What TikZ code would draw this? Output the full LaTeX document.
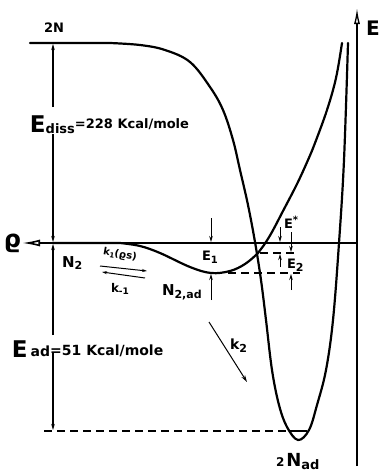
\documentclass[tikz,border=0pt]{standalone}
\usepackage{fontspec}
\setmainfont{DejaVu Sans}
\usetikzlibrary{arrows.meta}
\newcommand\fsz[1]{\fontsize{#1}{#1}\selectfont}
\newcommand\vrh{\char"03F1\relax}
\begin{document}
\begin{tikzpicture}[x=1pt,y=-1pt,
  curve/.style={line width=2.2pt,line join=round,line cap=round},
  axis/.style={line width=1.3pt},
  thinax/.style={line width=1pt},
  lvl/.style={line width=1.1pt,dash pattern=on 8pt off 5pt},
  tip/.style={-{Stealth[length=6pt,width=3.5pt]}},
  lbl/.style={inner sep=0pt,outer sep=0pt,anchor=base west,font=\bfseries},
]
\useasboundingbox (0,0) rectangle (380,472);

% axes
\coordinate (zeroL) at (22,243);
\coordinate (zeroR) at (357,243);
\coordinate (Etop) at (357,8);
\coordinate (Ebot) at (357,466);
\draw[line width=1.6pt,-{Latex[open,length=18pt,width=7pt]}] (zeroR) -- (zeroL);
\draw[axis,-{Latex[open,length=16pt,width=6pt]}] (Ebot) -- (Etop);

% dissociative curve 2N -> 2N_ad
\draw[curve] (30,43) -- plot[smooth,tension=0.6] coordinates {(110,43) (140,45) (165,50) (190,62) (210,87) (223,110) (233,140) (240,170) (248,205) (255,242) (261,280) (266,320) (272,370) (279,405) (287,427) (298,440) (309,430) (317,405) (326,370) (333,320) (339,243) (344,160) (348,43)};

% molecular curve N2 -> N2,ad
\draw[curve] (53,243) -- plot[smooth,tension=0.6] coordinates {(120,243) (140,246) (160,253) (190,267) (211,273) (230,271) (245,264) (258,253) (264,245) (272,232) (283,211) (297,184) (308,160) (315,143) (327,110) (336,78) (342,43)};

% levels
\coordinate (adL) at (44,431);
\coordinate (adM) at (289,431);
\coordinate (adR) at (307,431);
\draw[lvl] (adL) -- (adM);
\draw[line width=1.1pt] (adM) -- (adR);
\coordinate (crA) at (260,253);
\coordinate (crB) at (294,253);
\coordinate (mnA) at (228,273);
\coordinate (mnB) at (300,273);
\draw[lvl] (crA) -- (crB);
\draw[lvl] (mnA) -- (mnB);

% E_diss and E_ad arrows
\coordinate (d1) at (53,107); \coordinate (d2) at (53,44);
\coordinate (d3) at (53,134); \coordinate (d4) at (53,242);
\coordinate (a1) at (53,335); \coordinate (a2) at (53,244);
\coordinate (a3) at (53,353); \coordinate (a4) at (53,430);
\draw[axis,tip] (d1) -- (d2);
\draw[axis,tip] (d3) -- (d4);
\draw[axis,tip] (a1) -- (a2);
\draw[axis,tip] (a3) -- (a4);

% E1
\coordinate (e1a) at (211,218); \coordinate (e1b) at (211,242);
\coordinate (e1c) at (211,300); \coordinate (e1d) at (211,274);
\draw[thinax,tip] (e1a) -- (e1b);
\draw[thinax,tip] (e1c) -- (e1d);
% E*
\coordinate (esa) at (280,227); \coordinate (esb) at (280,242);
\coordinate (esc) at (280,267); \coordinate (esd) at (280,254);
\draw[thinax,tip] (esa) -- (esb);
\draw[thinax,tip] (esc) -- (esd);
% E2
\coordinate (e2a) at (291,232); \coordinate (e2b) at (291,252);
\coordinate (e2c) at (291,290); \coordinate (e2d) at (291,274);
\draw[thinax,tip] (e2a) -- (e2b);
\draw[thinax,tip] (e2c) -- (e2d);

% rate arrows
\coordinate (k1a) at (100,266); \coordinate (k1b) at (147,271);
\coordinate (kma) at (145,278); \coordinate (kmb) at (102,272);
\draw[thinax,-{Stealth[length=5pt,width=3pt]}] (k1a) -- (k1b);
\draw[thinax,-{Stealth[length=5pt,width=3pt]}] (kma) -- (kmb);
\coordinate (k2a) at (209,322); \coordinate (k2b) at (247,382);
\draw[thinax,-{Stealth[length=7pt,width=4pt]}] (k2a) -- (k2b);

% labels
\node[lbl] (l2N) at (44,32) {\fsz{13}2N};
\node[lbl] (lEd) at (30,132) {\fsz{23}E\raisebox{-1pt}{\fsz{13}diss}\raisebox{4pt}{\fsz{13}=228 Kcal/mole}};
\node[lbl] (lEa) at (12,357) {\fsz{23}E\hspace{3pt}\raisebox{1pt}{\fsz{14}ad}\raisebox{2pt}{\fsz{14}=51 Kcal/mole}};
\node[lbl] (lrho) at (4,247) {\fsz{24}\vrh};
\node[lbl] (lE) at (366,35) {\fsz{20}E};
\node[lbl] (lN2) at (62,267) {\fsz{15}N\raisebox{-2pt}{\fsz{11}2}};
\node[inner sep=0pt,rotate=-10,font=\bfseries] (lk1) at (120,255) {\fsz{10}k\raisebox{-2pt}{\fsz{7}1}(\vrh s)};
\node[lbl] (lkm) at (111,292) {\fsz{12}k\raisebox{-2pt}{\fsz{9}-1}};
\node[lbl] (lN2ad) at (162,295) {\fsz{15}N\raisebox{-3pt}{\fsz{11}2,ad}};
\node[lbl] (lE1) at (202,260) {\fsz{13}E\raisebox{-3pt}{\fsz{10}1}};
\node[lbl] (lEs) at (284,228) {\fsz{13}E\raisebox{5pt}{\fsz{10}*}};
\node[lbl] (lE2) at (287,268) {\fsz{13}E\raisebox{-3pt}{\fsz{11}2}};
\node[lbl] (lk2) at (230,349) {\fsz{14}k\raisebox{-3pt}{\fsz{11}2}};
\node[lbl] (l2Nad) at (276,466) {\fsz{12}2\hspace{2pt}\fsz{18}N\raisebox{-3pt}{\fsz{13}ad}};
\end{tikzpicture}
\end{document}
